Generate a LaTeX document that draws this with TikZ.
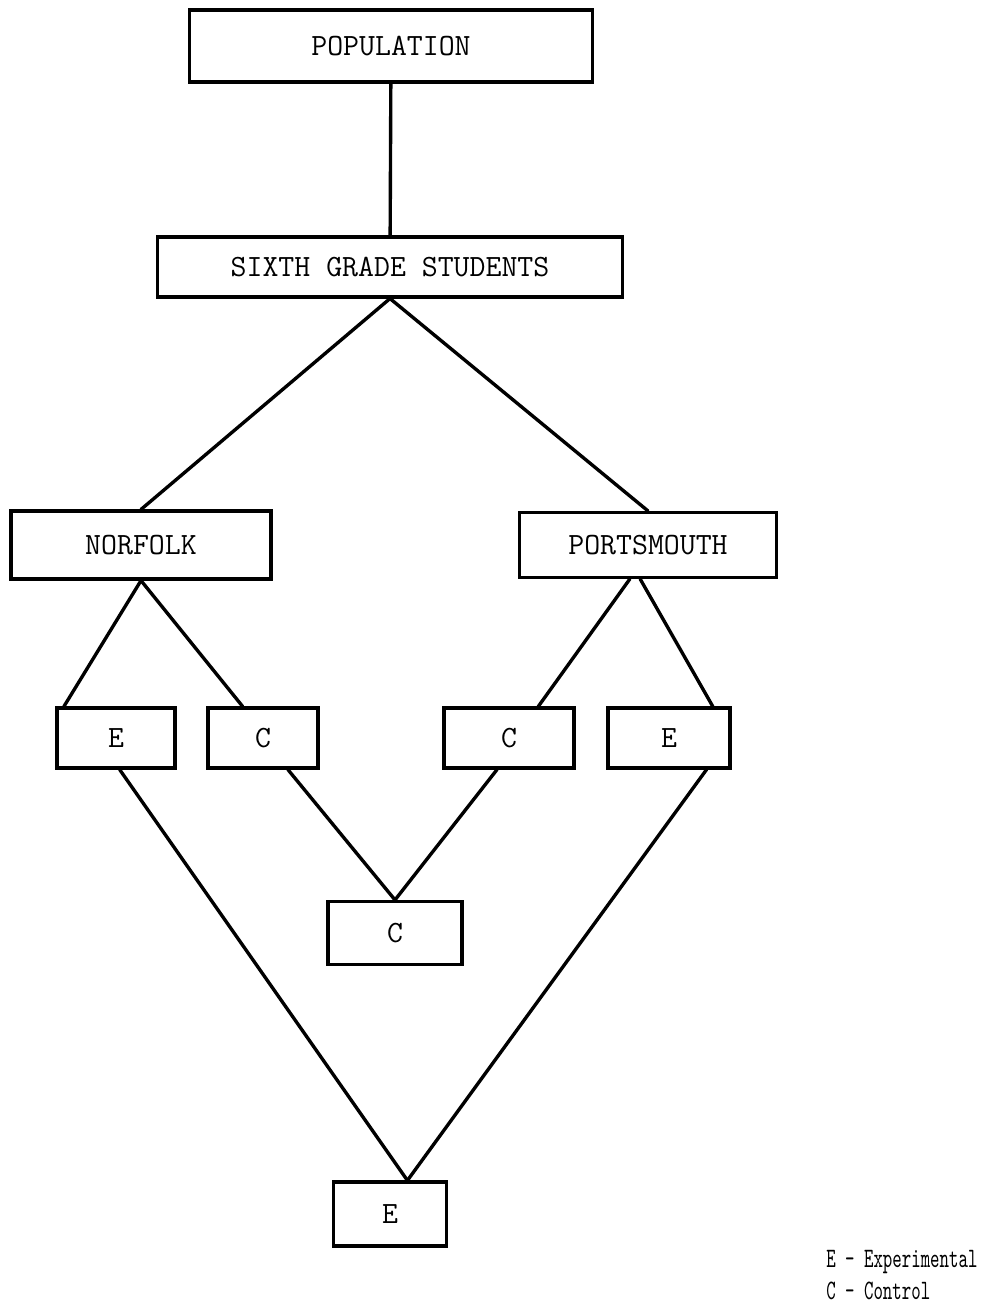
\documentclass[tikz,border=0pt]{standalone}
\usepackage{fontspec}
\newfontfamily\keyfont{lmmono10-regular}[Extension=.otf,FakeStretch=0.64]
\usetikzlibrary{calc}

\begin{document}
\begin{tikzpicture}[x=0.025cm,y=-0.025cm,
    box/.style={draw,line width=2.2pt,inner sep=0pt,
      font=\ttfamily\fontsize{22}{26}\selectfont},
    dims/.style 2 args={minimum width=#1,minimum height=#2},
    link/.style={line width=2.4pt,line cap=round},
    key/.style={align=left,inner sep=0pt,font=\keyfont\fontsize{20}{22.5}\selectfont}]
  \useasboundingbox (0,0) rectangle (987,1314);

  % boxes
  \node[box,dims={10.05cm}{1.8cm}] (pop) at (391,46) {POPULATION};
  \node[box,dims={11.625cm}{1.5cm}] (sixth) at (390,267) {SIXTH GRADE STUDENTS};
  \node[box,dims={6.5cm}{1.7cm}] (norfolk) at (141,545) {NORFOLK};
  \node[box,dims={6.425cm}{1.625cm}] (ports) at (648,545) {PORTSMOUTH};
  \node[box,dims={2.95cm}{1.5cm}] (e1) at (116,738) {E};
  \node[box,dims={2.75cm}{1.5cm}] (c1) at (263,738) {C};
  \node[box,dims={3.25cm}{1.5cm}] (c2) at (509,738) {C};
  \node[box,dims={3.05cm}{1.5cm}] (e2) at (669,738) {E};
  \node[box,dims={3.35cm}{1.575cm}] (cmid) at (395,933) {C};
  \node[box,dims={2.825cm}{1.6cm}] (ebot) at (390,1214) {E};

  % connectors
  \draw[link] (pop) -- (sixth);
  \draw[link] (sixth.south) -- (norfolk.north);
  \draw[link] (sixth.south) -- (ports.north);
  \draw[link] (norfolk.south) -- ($(e1.north west)!0.07!(e1.north east)$);
  \draw[link] (norfolk.south) -- ($(c1.north west)!0.32!(c1.north east)$);
  \draw[link] ($(ports.south west)!0.43!(ports.south east)$) -- ($(c2.north west)!0.72!(c2.north east)$);
  \draw[link] ($(ports.south west)!0.47!(ports.south east)$) -- ($(e2.north west)!0.85!(e2.north east)$);
  \draw[link] ($(c1.south west)!0.72!(c1.south east)$) -- (cmid.north);
  \draw[link] ($(c2.south west)!0.41!(c2.south east)$) -- (cmid.north);
  \draw[link] ($(e1.south west)!0.53!(e1.south east)$) -- ($(ebot.north west)!0.65!(ebot.north east)$);
  \draw[link] ($(e2.south west)!0.8!(e2.south east)$) -- ($(ebot.north west)!0.65!(ebot.north east)$);

  % key
  \node[key,anchor=north west] (legend) at (826,1250) {E - Experimental\\C - Control};
\end{tikzpicture}
\end{document}
